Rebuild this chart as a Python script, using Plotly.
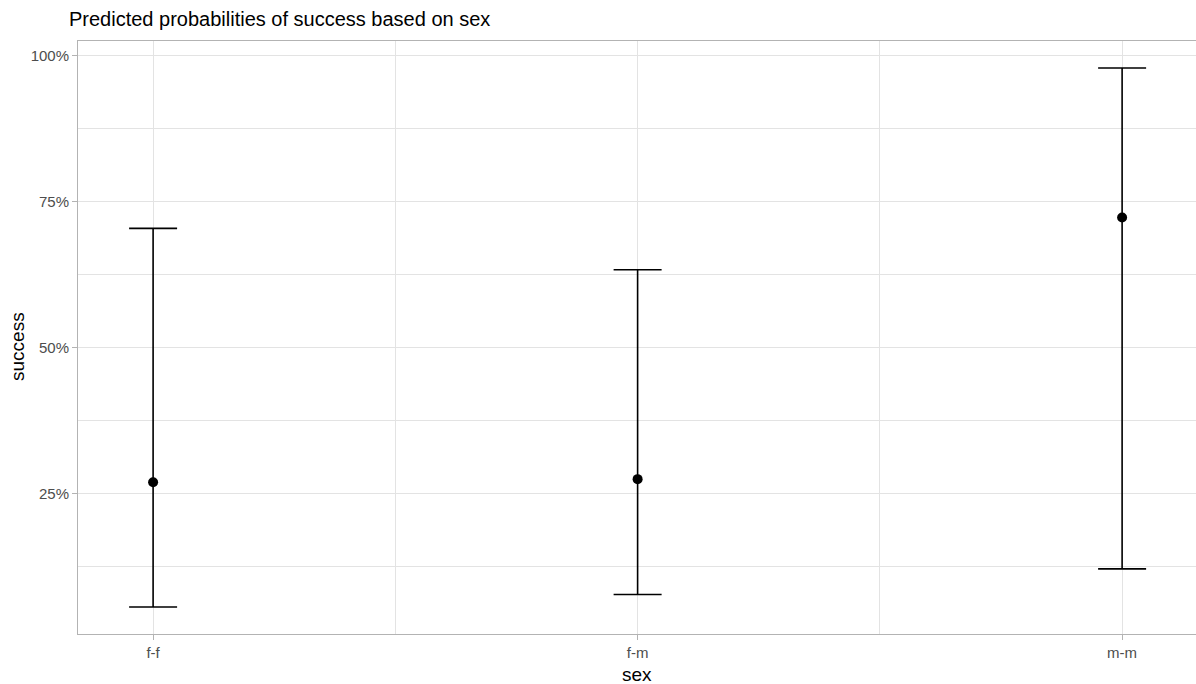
import plotly.graph_objects as go

# Predicted probability of success for each sex pairing, with confidence bounds
sex = ["f-f", "f-m", "m-m"]
predicted = [0.2695, 0.2747, 0.7233]
lower = [0.0555, 0.0770, 0.1210]
upper = [0.7045, 0.6336, 0.9795]

y_ticks = [0.25, 0.50, 0.75, 1.00]
y_minor = [0.125, 0.375, 0.625, 0.875]

xpos = list(range(len(sex)))
err_plus = [u - p for u, p in zip(upper, predicted)]
err_minus = [p - l for p, l in zip(predicted, lower)]

FONT = "Liberation Sans, Arial, sans-serif"
GRID = "#E3E3E3"
BORDER = "#B3B3B3"

fig = go.Figure()
fig.add_trace(go.Scatter(
    x=xpos,
    y=predicted,
    mode="markers",
    marker=dict(color="black", size=10),
    error_y=dict(
        type="data",
        symmetric=False,
        array=err_plus,
        arrayminus=err_minus,
        color="black",
        thickness=1.6,
        width=24,
    ),
    showlegend=False,
    hoverinfo="skip",
))

fig.update_layout(
    width=1196,
    height=684,
    margin=dict(l=78, r=0, t=41, b=50),
    paper_bgcolor="white",
    plot_bgcolor="white",
    font=dict(family=FONT, color="black"),
    title=dict(
        text="Predicted probabilities of success based on sex",
        font=dict(size=20, color="black", family=FONT),
        xref="container", yref="container",
        x=69 / 1196, xanchor="left",
        y=1 - 19 / 684, yanchor="middle",
    ),
    xaxis=dict(
        range=[-0.155, 2.1525],
        tickmode="array",
        tickvals=xpos,
        ticktext=sex,
        showgrid=True,
        gridcolor=GRID,
        gridwidth=1,
        minor=dict(tickmode="array", tickvals=[0.5, 1.5], showgrid=True,
                   gridcolor=GRID, gridwidth=1, ticks=""),
        zeroline=False,
        showline=True,
        mirror=True,
        linecolor=BORDER,
        linewidth=1,
        ticks="outside",
        ticklen=5,
        tickwidth=1,
        tickcolor=BORDER,
        tickfont=dict(size=15, color="#4D4D4D", family=FONT),
    ),
    yaxis=dict(
        range=[0.0093, 1.0257],
        tickmode="array",
        tickvals=y_ticks,
        tickformat=".0%",
        showgrid=True,
        gridcolor=GRID,
        gridwidth=1,
        minor=dict(tickmode="array", tickvals=y_minor, showgrid=True,
                   gridcolor=GRID, gridwidth=1, ticks=""),
        zeroline=False,
        showline=True,
        mirror=True,
        linecolor=BORDER,
        linewidth=1,
        ticks="outside",
        ticklen=5,
        tickwidth=1,
        tickcolor=BORDER,
        tickfont=dict(size=15, color="#4D4D4D", family=FONT),
    ),
    annotations=[
        dict(text="sex", xref="paper", yref="paper",
             x=(637 - 78) / 1118, y=-(674 - 634) / 593,
             xanchor="center", yanchor="middle", showarrow=False,
             font=dict(size=19, color="black", family=FONT)),
        dict(text="success", xref="paper", yref="paper",
             x=(17 - 78) / 1118, y=(634 - 347) / 593,
             xanchor="center", yanchor="middle", showarrow=False,
             textangle=-90,
             font=dict(size=19, color="black", family=FONT)),
    ],
)

fig.write_html("out.html")
